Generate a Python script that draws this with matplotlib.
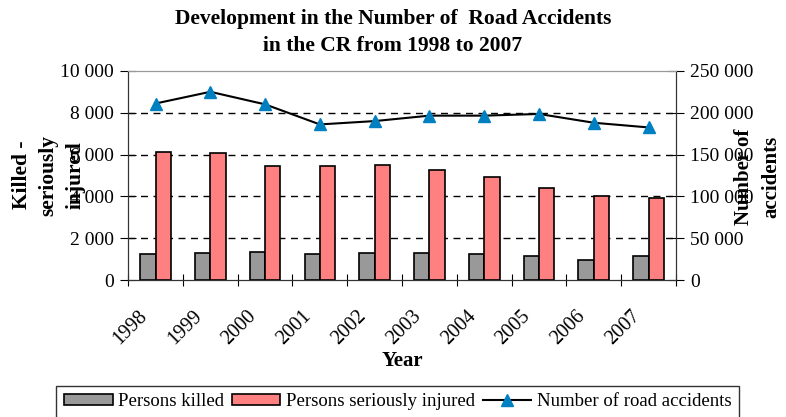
import numpy as np
import matplotlib
matplotlib.use('Agg')
from matplotlib import pyplot as plt
from matplotlib.ticker import FuncFormatter, MultipleLocator
from matplotlib.transforms import ScaledTranslation

# Datos
years = ['1998', '1999', '2000', '2001', '2002', '2003', '2004', '2005', '2006', '2007']
killed = [1230, 1310, 1320, 1230, 1310, 1310, 1230, 1150, 970, 1150]
injured = [6140, 6060, 5470, 5470, 5480, 5250, 4910, 4420, 4000, 3940]
accidents = [211000, 225000, 210000, 186000, 190000, 196500, 196500, 198500, 188000, 182400]

plt.rcParams['font.family'] = ['Liberation Serif', 'DejaVu Serif']


def miles(v, pos):
    return '{:,.0f}'.format(v).replace(',', ' ')


fig = plt.figure(figsize=(7.86, 4.17), dpi=100)
ax = fig.add_axes([0.163, 0.3285, 0.697, 0.5015])
ax2 = ax.twinx()

x = np.arange(len(years))
w = 0.28
ax.bar(x - w / 2, killed, w, color='#999999', edgecolor='black', lw=1.2,
       label='Persons killed', zorder=3)
ax.bar(x + w / 2, injured, w, color='#FF8080', edgecolor='black', lw=1.2,
       label='Persons seriously injured', zorder=3)
ax2.plot(x, accidents, color='black', lw=1.5, marker='^', ms=15,
         mfc='#0080C0', mec='#0080C0', label='Number of road accidents')

ax.set_xlim(-0.5, len(years) - 0.5)
ax.set_ylim(0, 10000)
ax2.set_ylim(0, 250000)
ax.yaxis.set_major_locator(MultipleLocator(2000))
ax2.yaxis.set_major_locator(MultipleLocator(50000))
ax.yaxis.set_major_formatter(FuncFormatter(miles))
ax2.yaxis.set_major_formatter(FuncFormatter(miles))
for yv in [2000, 4000, 6000, 8000]:
    ax.axhline(yv, color='black', ls=(0, (5, 4)), lw=1, zorder=1)

# ticks entre categorias, etiquetas en el centro
ax.set_xticks(np.arange(len(years) + 1) - 0.5)
ax.set_xticklabels([])
ax.set_xticks(x, minor=True)
ax.set_xticklabels(years, minor=True, rotation=45, ha='right',
                   rotation_mode='anchor', fontsize=14.5)
ax.tick_params(axis='x', which='minor', length=0, pad=19)
ax.tick_params(axis='x', which='major', direction='inout', length=8)
ax.tick_params(axis='y', direction='inout', length=12, labelsize=14, pad=4)
ax2.tick_params(axis='y', direction='inout', length=12, labelsize=14, pad=4)
desplaza = ScaledTranslation(-18 / 100, 0, fig.dpi_scale_trans)
for lab in ax.get_xticklabels(minor=True):
    lab.set_transform(lab.get_transform() + desplaza)

for a in (ax, ax2):
    a.spines['top'].set_color('#999999')
    a.spines['left'].set_color('#333333')
    a.spines['right'].set_color('#333333')
    a.spines['bottom'].set_color('#333333')

ax.set_xlabel('Year', fontsize=15, fontweight='bold', labelpad=2)
fig.text(0.5, 0.922, 'Development in the Number of  Road Accidents\nin the CR from 1998 to 2007',
         ha='center', va='center', fontsize=15.5, fontweight='bold', linespacing=1.5)
fig.text(0.062, 0.58, 'Killed -\nseriously\ninjured', rotation=90, ha='center',
         va='center', fontsize=15.5, fontweight='bold', linespacing=1.45)
fig.text(0.964, 0.575, 'Number of\naccidents', rotation=90, ha='center',
         va='center', fontsize=15, fontweight='bold', linespacing=1.55)

h1, l1 = ax.get_legend_handles_labels()
h2, l2 = ax2.get_legend_handles_labels()
h2[0].set_markersize(9)
leg = fig.legend(h1 + h2, l1 + l2, loc='center', bbox_to_anchor=(0.506, 0.036),
                 ncol=3, fontsize=13.5, frameon=True, fancybox=False,
                 handlelength=2.6, handleheight=0.5, handletextpad=0.3,
                 columnspacing=0.4, borderpad=0.4, edgecolor='black')
leg.get_frame().set_linewidth(1)

fig.savefig('out.png', dpi=100)
